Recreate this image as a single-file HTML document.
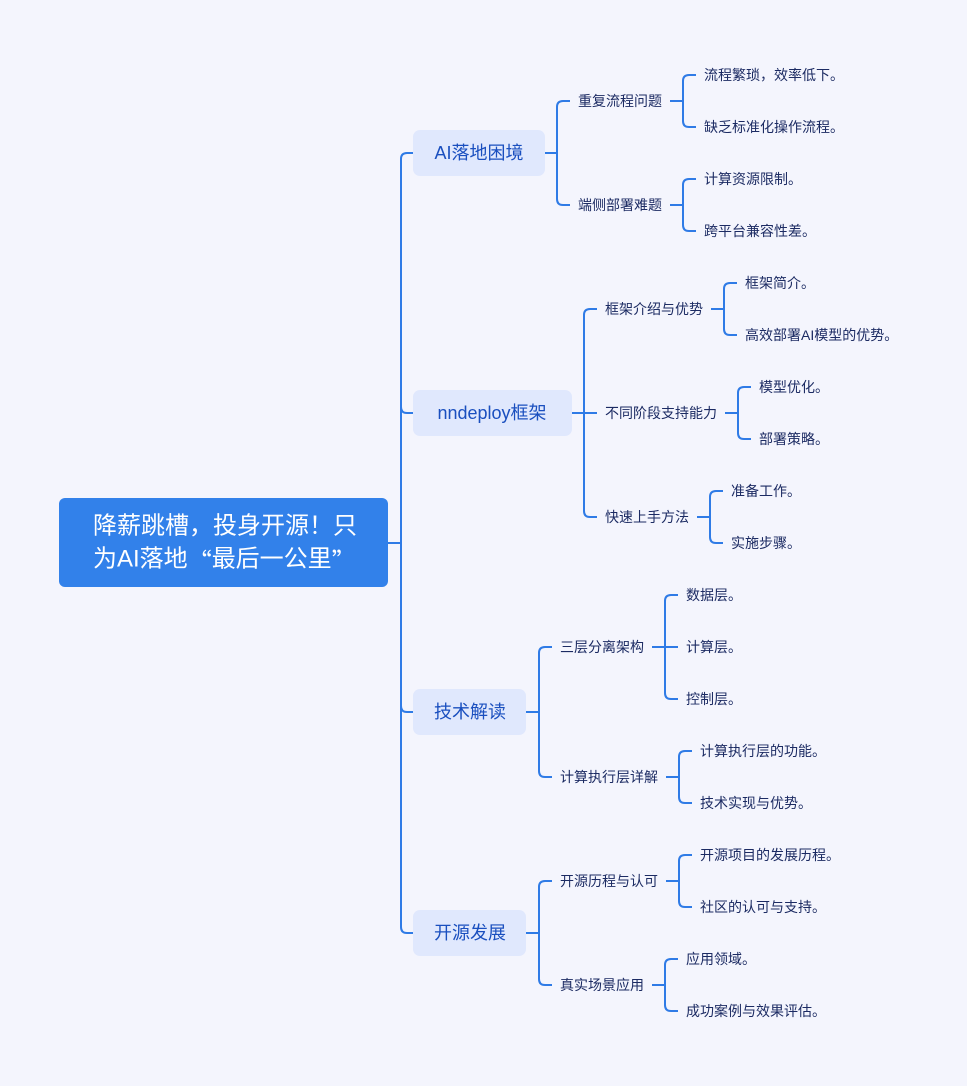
<!DOCTYPE html>
<html><head><meta charset="utf-8"><style>
html,body{margin:0;padding:0;background:#f4f5fd;}
svg{display:block;font-family:"Liberation Sans","Noto Sans CJK SC",sans-serif;}
.l{fill:none;stroke:#2f7be6;stroke-width:2;}
.t{font-size:14px;fill:#1c2b63;dominant-baseline:central;}
.b{font-size:18px;fill:#1a4fbf;dominant-baseline:central;text-anchor:middle;}
.q{font-family:"Noto Sans CJK SC",sans-serif;}
</style></head><body>
<svg width="967" height="1086" viewBox="0 0 967 1086">
<rect width="967" height="1086" fill="#f4f5fd"/>
<g class="l">
<path d="M388 543H401M401 543V159Q401 153 407 153H413M401 543V407Q401 413 407 413H413M401 543V706Q401 712 407 712H413M401 543V927Q401 933 407 933H413"/>
<path d="M545 153H557M557 153V107Q557 101 563 101H570M557 153V199Q557 205 563 205H570"/>
<path d="M670 101H683M683 101V81Q683 75 689 75H696M683 101V121Q683 127 689 127H696"/>
<path d="M670 205H683M683 205V185Q683 179 689 179H696M683 205V225Q683 231 689 231H696"/>
<path d="M572 413H584M584 413V315Q584 309 590 309H597M584 413H597M584 413V511Q584 517 590 517H597"/>
<path d="M711 309H724M724 309V289Q724 283 730 283H737M724 309V329Q724 335 730 335H737"/>
<path d="M725 413H738M738 413V393Q738 387 744 387H751M738 413V433Q738 439 744 439H751"/>
<path d="M697 517H710M710 517V497Q710 491 716 491H723M710 517V537Q710 543 716 543H723"/>
<path d="M526 712H539M539 712V653Q539 647 545 647H552M539 712V771Q539 777 545 777H552"/>
<path d="M652 647H665M665 647V601Q665 595 671 595H678M665 647H678M665 647V693Q665 699 671 699H678"/>
<path d="M666 777H679M679 777V757Q679 751 685 751H692M679 777V797Q679 803 685 803H692"/>
<path d="M526 933H539M539 933V887Q539 881 545 881H552M539 933V979Q539 985 545 985H552"/>
<path d="M666 881H679M679 881V861Q679 855 685 855H692M679 881V901Q679 907 685 907H692"/>
<path d="M652 985H665M665 985V965Q665 959 671 959H678M665 985V1005Q665 1011 671 1011H678"/>
</g>
<rect x="59" y="498" width="329" height="89" rx="6" fill="#3281ea"/>
<text x="93" y="526" font-size="24" fill="#fff" dominant-baseline="central">降薪跳槽，投身开源！只</text>
<text x="93" y="559" font-size="24" fill="#fff" dominant-baseline="central">为AI落地<tspan class="q">“</tspan>最后一公里<tspan class="q">”</tspan></text>
<rect x="413" y="130" width="132" height="46" rx="7" fill="#e0e8fd"/><text class="b" x="479" y="153">AI落地困境</text>
<rect x="413" y="390" width="159" height="46" rx="7" fill="#e0e8fd"/><text class="b" x="492" y="413">nndeploy框架</text>
<rect x="413" y="689" width="113" height="46" rx="7" fill="#e0e8fd"/><text class="b" x="470" y="712">技术解读</text>
<rect x="413" y="910" width="113" height="46" rx="7" fill="#e0e8fd"/><text class="b" x="470" y="933">开源发展</text>
<g class="t">
<text class="t" x="578" y="101">重复流程问题</text>
<text class="t" x="578" y="205">端侧部署难题</text>
<text class="t" x="704" y="75">流程繁琐，效率低下。</text>
<text class="t" x="704" y="127">缺乏标准化操作流程。</text>
<text class="t" x="704" y="179">计算资源限制。</text>
<text class="t" x="704" y="231">跨平台兼容性差。</text>
<text class="t" x="605" y="309">框架介绍与优势</text>
<text class="t" x="605" y="413">不同阶段支持能力</text>
<text class="t" x="605" y="517">快速上手方法</text>
<text class="t" x="745" y="283">框架简介。</text>
<text class="t" x="745" y="335">高效部署AI模型的优势。</text>
<text class="t" x="759" y="387">模型优化。</text>
<text class="t" x="759" y="439">部署策略。</text>
<text class="t" x="731" y="491">准备工作。</text>
<text class="t" x="731" y="543">实施步骤。</text>
<text class="t" x="560" y="647">三层分离架构</text>
<text class="t" x="560" y="777">计算执行层详解</text>
<text class="t" x="686" y="595">数据层。</text>
<text class="t" x="686" y="647">计算层。</text>
<text class="t" x="686" y="699">控制层。</text>
<text class="t" x="700" y="751">计算执行层的功能。</text>
<text class="t" x="700" y="803">技术实现与优势。</text>
<text class="t" x="560" y="881">开源历程与认可</text>
<text class="t" x="560" y="985">真实场景应用</text>
<text class="t" x="700" y="855">开源项目的发展历程。</text>
<text class="t" x="700" y="907">社区的认可与支持。</text>
<text class="t" x="686" y="959">应用领域。</text>
<text class="t" x="686" y="1011">成功案例与效果评估。</text>
</g>
</svg>
</body></html>
